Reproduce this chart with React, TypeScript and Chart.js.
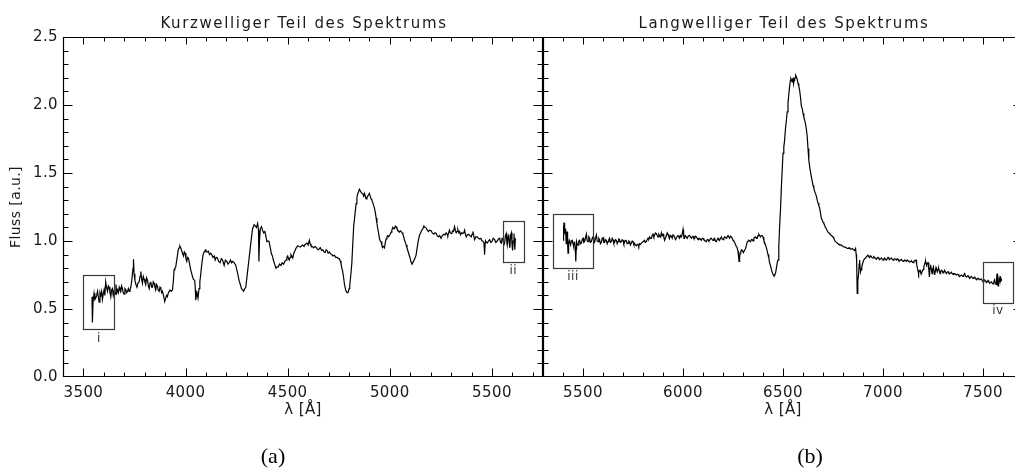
import React, { useEffect, useRef } from "react";
import { Chart, registerables } from "chart.js";

Chart.register(...registerables);

// ---------- data ----------
const panelTitles = ["Kurzwelliger Teil des Spektrums", "Langwelliger Teil des Spektrums"];
const xAxisTitle = "λ [Å]";
const yAxisTitle = "Fluss [a.u.]";
const captions = ["(a)", "(b)"];

const yRange = [0, 2.5];
const yTicks = [0, 0.5, 1.0, 1.5, 2.0, 2.5];
const leftRange = [3400, 5750];
const rightRange = [5300, 7700];
const leftXTicks = [3500, 4000, 4500, 5000, 5500];
const rightXTicks = [5500, 6000, 6500, 7000, 7500];

const leftWave = [
  3542, 3544, 3547, 3552, 3556, 3560, 3565, 3569, 3573, 3577, 3581, 3585, 3589, 3593, 3597, 3601, 3605, 3609, 3613, 3618,
  3622, 3626, 3630, 3634, 3638, 3642, 3646, 3650, 3655, 3659, 3663, 3667, 3671, 3675, 3679, 3683, 3687, 3691, 3695, 3699,
  3703, 3708, 3712, 3716, 3720, 3724, 3728, 3732, 3736, 3740, 3743, 3745, 3748, 3752, 3757, 3762, 3767, 3773, 3777, 3781,
  3785, 3789, 3793, 3797, 3801, 3805, 3809, 3814, 3818, 3822, 3826, 3830, 3834, 3838, 3842, 3846, 3850, 3854, 3858, 3862,
  3866, 3871, 3875, 3879, 3883, 3887, 3892, 3898, 3903, 3907, 3911, 3916, 3920, 3924, 3930, 3936, 3940, 3944, 3948, 3952,
  3958, 3964, 3968, 3972, 3976, 3980, 3985, 3990, 3994, 3998, 4002, 4006, 4010, 4014, 4020, 4025, 4032, 4038, 4045, 4048,
  4050, 4053, 4055, 4058, 4061, 4066, 4070, 4074, 4078, 4082, 4086, 4091, 4095, 4099, 4103, 4107, 4112, 4117, 4123, 4128,
  4134, 4140, 4145, 4150, 4156, 4162, 4169, 4175, 4181, 4185, 4189, 4195, 4202, 4208, 4213, 4220, 4225, 4230, 4238, 4246,
  4254, 4262, 4268, 4274, 4280, 4284, 4290, 4295, 4301, 4307, 4312, 4320, 4328, 4336, 4342, 4347, 4353, 4357, 4359, 4362,
  4366, 4372, 4377, 4382, 4388, 4393, 4398, 4404, 4409, 4415, 4420, 4425, 4430, 4436, 4443, 4448, 4454, 4460, 4467, 4473,
  4480, 4486, 4492, 4496, 4500, 4504, 4508, 4512, 4516, 4520, 4525, 4530, 4536, 4542, 4549, 4555, 4562, 4568, 4574, 4580,
  4585, 4590, 4595, 4600, 4606, 4610, 4614, 4620, 4627, 4633, 4639, 4645, 4651, 4656, 4660, 4666, 4672, 4678, 4683, 4688,
  4693, 4698, 4704, 4710, 4716, 4722, 4729, 4735, 4742, 4748, 4753, 4757, 4761, 4765, 4769, 4774, 4778, 4784, 4788, 4791,
  4797, 4801, 4804, 4809, 4814, 4818, 4823, 4829, 4835, 4839, 4843, 4847, 4851, 4855, 4859, 4864, 4868, 4872, 4876, 4880,
  4884, 4888, 4892, 4896, 4900, 4904, 4908, 4912, 4917, 4921, 4925, 4929, 4933, 4937, 4941, 4945, 4949, 4953, 4957, 4961,
  4966, 4970, 4974, 4978, 4982, 4986, 4990, 4994, 4998, 5002, 5006, 5010, 5015, 5019, 5023, 5027, 5031, 5035, 5039, 5043,
  5047, 5051, 5055, 5060, 5064, 5068, 5072, 5076, 5080, 5084, 5088, 5092, 5096, 5100, 5104, 5109, 5112, 5116, 5121, 5125,
  5129, 5134, 5139, 5145, 5151, 5157, 5162, 5167, 5172, 5178, 5184, 5189, 5195, 5202, 5208, 5215, 5221, 5227, 5232, 5238,
  5244, 5251, 5257, 5264, 5270, 5276, 5280, 5284, 5288, 5292, 5296, 5300, 5304, 5308, 5312, 5317, 5321, 5325, 5329, 5333,
  5338, 5342, 5346, 5351, 5357, 5362, 5366, 5370, 5374, 5379, 5385, 5392, 5399, 5403, 5407, 5411, 5415, 5421, 5428, 5434,
  5440, 5446, 5451, 5456, 5461, 5464, 5467, 5469, 5473, 5477, 5483, 5489, 5494, 5500, 5506, 5513, 5519, 5526, 5532, 5538,
  5542, 5546, 5550, 5554, 5558, 5562, 5566, 5570, 5573, 5575, 5579, 5582, 5585, 5588, 5591, 5595, 5598, 5601, 5604, 5608,
  5610, 5612, 5615,
];
const leftFlux = [
  0.59, 0.40, 0.55, 0.615, 0.57, 0.58, 0.60, 0.63, 0.59, 0.55, 0.62, 0.60, 0.63, 0.57, 0.61, 0.64, 0.60, 0.70, 0.66, 0.63,
  0.67, 0.66, 0.62, 0.59, 0.64, 0.65, 0.60, 0.63, 0.61, 0.68, 0.62, 0.64, 0.62, 0.66, 0.64, 0.63, 0.67, 0.65, 0.62, 0.61,
  0.65, 0.64, 0.62, 0.63, 0.65, 0.63, 0.64, 0.66, 0.70, 0.76, 0.80, 0.865, 0.76, 0.71, 0.68, 0.66, 0.69, 0.70, 0.74, 0.775,
  0.72, 0.69, 0.74, 0.72, 0.70, 0.68, 0.73, 0.71, 0.67, 0.65, 0.69, 0.70, 0.66, 0.66, 0.70, 0.69, 0.66, 0.64, 0.68, 0.67,
  0.64, 0.63, 0.66, 0.65, 0.62, 0.63, 0.60, 0.555, 0.58, 0.60, 0.59, 0.62, 0.63, 0.64, 0.63, 0.64, 0.70, 0.79, 0.80, 0.81,
  0.87, 0.935, 0.95, 0.963, 0.95, 0.935, 0.91, 0.89, 0.92, 0.91, 0.87, 0.85, 0.88, 0.875, 0.83, 0.79, 0.75, 0.72, 0.71, 0.64,
  0.565, 0.60, 0.63, 0.60, 0.58, 0.65, 0.70, 0.75, 0.81, 0.86, 0.90, 0.92, 0.93, 0.935, 0.92, 0.92, 0.925, 0.90, 0.91, 0.90,
  0.88, 0.89, 0.86, 0.88, 0.875, 0.85, 0.84, 0.87, 0.86, 0.84, 0.82, 0.86, 0.85, 0.83, 0.84, 0.86, 0.84, 0.85, 0.84, 0.82,
  0.77, 0.71, 0.68, 0.65, 0.64, 0.63, 0.65, 0.66, 0.74, 0.82, 0.885, 0.99, 1.09, 1.12, 1.11, 1.10, 1.13, 1.08, 0.85, 1.00,
  1.09, 1.105, 1.08, 1.06, 1.07, 1.04, 0.995, 1.00, 0.995, 0.95, 0.91, 0.89, 0.86, 0.83, 0.80, 0.81, 0.81, 0.83, 0.82, 0.84,
  0.83, 0.85, 0.86, 0.88, 0.89, 0.87, 0.86, 0.88, 0.90, 0.89, 0.875, 0.91, 0.93, 0.95, 0.965, 0.96, 0.955, 0.965, 0.97, 0.96,
  0.975, 0.98, 0.985, 0.97, 1.005, 0.98, 0.965, 0.96, 0.95, 0.96, 0.955, 0.94, 0.935, 0.945, 0.95, 0.93, 0.935, 0.92, 0.915, 0.935,
  0.93, 0.91, 0.92, 0.905, 0.90, 0.89, 0.895, 0.88, 0.88, 0.87, 0.87, 0.855, 0.835, 0.80, 0.78, 0.73, 0.68, 0.64, 0.625, 0.62,
  0.625, 0.65, 0.675, 0.75, 0.835, 0.96, 1.105, 1.19, 1.275, 1.32, 1.35, 1.36, 1.38, 1.37, 1.36, 1.35, 1.345, 1.33, 1.35, 1.33,
  1.31, 1.32, 1.33, 1.34, 1.35, 1.33, 1.31, 1.30, 1.28, 1.26, 1.24, 1.21, 1.17, 1.13, 1.09, 1.06, 1.02, 1.00, 0.995, 0.97,
  0.955, 0.96, 0.95, 0.99, 1.015, 1.03, 1.04, 1.03, 1.04, 1.05, 1.065, 1.08, 1.10, 1.09, 1.09, 1.11, 1.105, 1.09, 1.08, 1.07,
  1.065, 1.075, 1.07, 1.06, 1.05, 1.03, 1.005, 0.99, 0.97, 0.95, 0.93, 0.91, 0.89, 0.87, 0.845, 0.83, 0.83, 0.85, 0.865, 0.88,
  0.90, 0.95, 1.00, 1.04, 1.06, 1.08, 1.09, 1.11, 1.10, 1.095, 1.08, 1.07, 1.08, 1.075, 1.06, 1.05, 1.06, 1.055, 1.04, 1.03,
  1.04, 1.02, 1.04, 1.05, 1.045, 1.06, 1.05, 1.04, 1.06, 1.08, 1.06, 1.055, 1.06, 1.075, 1.07, 1.105, 1.08, 1.06, 1.07, 1.085,
  1.06, 1.07, 1.045, 1.06, 1.055, 1.06, 1.08, 1.05, 1.03, 1.045, 1.05, 1.04, 1.03, 1.05, 1.07, 1.04, 1.01, 1.03, 1.03, 1.02,
  1.015, 1.02, 1.00, 1.00, 0.985, 0.90, 0.99, 1.00, 0.99, 0.985, 1.00, 1.01, 0.99, 0.995, 1.02, 1.01, 0.99, 1.00, 1.015, 1.02,
  0.99, 0.985, 1.02, 1.015, 0.97, 0.985, 1.04, 1.055, 0.99, 0.97, 1.03, 1.05, 0.98, 0.95, 1.04, 1.06, 0.98, 0.93, 1.00, 1.055,
  0.99, 0.935, 1.02,
];

const rightWave = [
  5400, 5403, 5405, 5407, 5409, 5411, 5413, 5416, 5418, 5421, 5423, 5425, 5428, 5431, 5434, 5438, 5442, 5446, 5450, 5453,
  5456, 5458, 5461, 5464, 5466, 5468, 5471, 5475, 5479, 5483, 5487, 5492, 5496, 5500, 5504, 5508, 5512, 5517, 5521, 5525,
  5529, 5533, 5537, 5542, 5546, 5550, 5554, 5558, 5562, 5567, 5571, 5575, 5579, 5583, 5587, 5592, 5596, 5600, 5604, 5608,
  5612, 5617, 5621, 5625, 5629, 5633, 5637, 5642, 5646, 5650, 5654, 5658, 5662, 5667, 5671, 5675, 5679, 5683, 5687, 5692,
  5696, 5700, 5704, 5708, 5712, 5717, 5721, 5725, 5729, 5733, 5737, 5742, 5746, 5750, 5754, 5758, 5762, 5767, 5771, 5775,
  5779, 5783, 5787, 5792, 5796, 5800, 5804, 5808, 5812, 5817, 5821, 5825, 5829, 5833, 5837, 5842, 5846, 5850, 5854, 5858,
  5862, 5867, 5871, 5875, 5879, 5883, 5888, 5892, 5896, 5900, 5904, 5908, 5912, 5917, 5921, 5925, 5929, 5933, 5937, 5942,
  5946, 5950, 5954, 5958, 5962, 5967, 5971, 5975, 5979, 5983, 5987, 5992, 5996, 6000, 6003, 6005, 6008, 6011, 6016, 6021,
  6026, 6033, 6037, 6042, 6046, 6050, 6054, 6058, 6062, 6067, 6071, 6075, 6079, 6083, 6088, 6092, 6096, 6100, 6104, 6108,
  6112, 6117, 6121, 6125, 6129, 6133, 6138, 6142, 6146, 6150, 6154, 6158, 6162, 6167, 6171, 6175, 6179, 6183, 6188, 6192,
  6196, 6200, 6204, 6208, 6212, 6217, 6221, 6225, 6229, 6233, 6238, 6242, 6246, 6250, 6254, 6258, 6262, 6267, 6271, 6275,
  6278, 6280, 6283, 6286, 6289, 6292, 6297, 6302, 6307, 6313, 6317, 6322, 6326, 6329, 6334, 6338, 6342, 6346, 6350, 6354,
  6358, 6363, 6367, 6371, 6375, 6379, 6383, 6388, 6392, 6396, 6400, 6404, 6408, 6413, 6417, 6421, 6425, 6429, 6433, 6438,
  6442, 6446, 6450, 6454, 6458, 6463, 6467, 6471, 6475, 6479, 6483, 6488, 6492, 6496, 6500, 6504, 6508, 6512, 6517, 6521,
  6525, 6529, 6533, 6537, 6539, 6542, 6546, 6548, 6550, 6552, 6554, 6556, 6558, 6560, 6563, 6565, 6567, 6571, 6575, 6579,
  6583, 6588, 6592, 6596, 6600, 6604, 6608, 6612, 6617, 6621, 6625, 6629, 6635, 6642, 6646, 6650, 6654, 6658, 6662, 6667,
  6671, 6675, 6679, 6683, 6688, 6692, 6696, 6700, 6704, 6708, 6712, 6717, 6721, 6725, 6729, 6733, 6738, 6742, 6746, 6750,
  6754, 6758, 6762, 6767, 6771, 6775, 6779, 6783, 6788, 6792, 6796, 6800, 6804, 6808, 6812, 6817, 6821, 6825, 6829, 6833,
  6838, 6842, 6846, 6850, 6854, 6858, 6863, 6866, 6868, 6871, 6874, 6878, 6881, 6883, 6886, 6888, 6891, 6894, 6899, 6904,
  6908, 6913, 6917, 6921, 6925, 6929, 6933, 6938, 6942, 6946, 6950, 6954, 6958, 6963, 6967, 6971, 6975, 6979, 6983, 6988,
  6992, 6996, 7000, 7004, 7008, 7012, 7017, 7021, 7025, 7029, 7033, 7038, 7042, 7046, 7050, 7054, 7058, 7063, 7067, 7071,
  7075, 7079, 7083, 7088, 7092, 7096, 7100, 7104, 7108, 7113, 7117, 7121, 7125, 7129, 7133, 7138, 7142, 7146, 7150, 7154,
  7158, 7162, 7165, 7168, 7172, 7175, 7178, 7181, 7185, 7188, 7192, 7196, 7200, 7204, 7208, 7211, 7213, 7216, 7218, 7221,
  7225, 7229, 7232, 7235, 7238, 7242, 7245, 7248, 7252, 7255, 7258, 7262, 7265, 7268, 7272, 7275, 7278, 7282, 7285, 7288,
  7292, 7296, 7300, 7304, 7308, 7313, 7317, 7321, 7325, 7329, 7333, 7338, 7342, 7346, 7350, 7354, 7358, 7363, 7367, 7371,
  7375, 7379, 7383, 7388, 7392, 7396, 7400, 7404, 7408, 7413, 7417, 7421, 7425, 7429, 7433, 7438, 7442, 7446, 7450, 7454,
  7458, 7463, 7467, 7471, 7475, 7479, 7483, 7488, 7492, 7496, 7500, 7504, 7508, 7513, 7517, 7521, 7525, 7529, 7533, 7538,
  7542, 7546, 7550, 7554, 7558, 7562, 7565, 7568, 7570, 7572, 7575, 7578, 7580, 7583, 7585, 7587, 7588, 7590, 7592,
];
const rightFlux = [
  1.007, 1.10, 1.135, 1.06, 1.10, 1.05, 1.09, 0.98, 1.04, 1.07, 0.99, 0.91, 0.98, 1.005, 0.99, 0.97, 1.00, 1.005, 0.98, 0.96,
  0.99, 0.995, 0.96, 0.85, 0.94, 0.995, 0.98, 0.97, 1.00, 1.005, 0.98, 0.985, 1.01, 1.02, 0.99, 0.995, 1.02, 1.05, 1.00, 0.995,
  1.03, 1.02, 0.99, 0.995, 1.02, 1.03, 1.00, 0.99, 1.02, 1.045, 1.00, 0.995, 1.02, 1.01, 0.98, 0.99, 1.02, 1.025, 0.99, 0.99,
  1.01, 1.005, 0.98, 0.995, 1.01, 1.02, 0.99, 0.995, 1.02, 1.01, 0.985, 0.99, 1.01, 1.005, 0.98, 0.995, 1.015, 1.01, 0.99, 0.995,
  1.01, 1.005, 0.98, 0.99, 1.005, 1.00, 0.98, 0.985, 1.00, 0.995, 0.97, 0.985, 1.00, 0.995, 0.975, 0.98, 0.97, 0.965, 0.975, 0.975,
  0.96, 0.98, 0.975, 0.985, 0.99, 0.995, 1.00, 1.005, 0.99, 0.995, 1.01, 1.02, 1.015, 1.03, 1.02, 1.02, 1.04, 1.05, 1.03, 1.04,
  1.06, 1.055, 1.04, 1.03, 1.05, 1.04, 1.03, 1.06, 1.04, 1.05, 1.03, 1.005, 1.02, 1.04, 1.06, 1.05, 1.03, 1.02, 1.04, 1.035,
  1.02, 1.045, 1.04, 1.03, 1.01, 1.02, 1.035, 1.04, 1.03, 1.02, 1.04, 1.03, 1.05, 1.085, 1.04, 1.02, 1.03, 1.04, 1.03, 1.02,
  1.035, 1.04, 1.03, 1.02, 1.03, 1.035, 1.02, 1.02, 1.035, 1.03, 1.02, 1.01, 1.02, 1.02, 1.01, 1.005, 1.02, 1.02, 1.01, 1.005,
  1.00, 0.995, 1.01, 1.01, 1.00, 1.005, 1.02, 1.02, 1.01, 1.005, 1.015, 1.02, 1.00, 0.995, 1.01, 1.02, 1.01, 1.005, 1.02, 1.03,
  1.015, 1.01, 1.02, 1.03, 1.025, 1.02, 1.03, 1.04, 1.03, 1.02, 1.035, 1.03, 1.02, 1.005, 1.00, 0.99, 0.975, 0.96, 0.95, 0.925,
  0.88, 0.85, 0.88, 0.91, 0.92, 0.935, 0.93, 0.915, 0.93, 0.945, 0.97, 0.995, 1.00, 1.005, 1.00, 0.995, 1.01, 1.01, 1.00, 1.02,
  1.025, 1.03, 1.02, 1.02, 1.04, 1.05, 1.04, 1.03, 1.04, 1.04, 1.03, 1.005, 0.99, 0.97, 0.95, 0.925, 0.90, 0.875, 0.84, 0.815,
  0.79, 0.77, 0.755, 0.745, 0.745, 0.765, 0.80, 0.84, 0.86, 0.96, 1.105, 1.25, 1.40, 1.52, 1.645, 1.69, 1.74, 1.82, 1.89, 1.95,
  2.01, 2.08, 2.135, 2.18, 2.195, 2.185, 2.17, 2.19, 2.195, 2.17, 2.16, 2.18, 2.195, 2.20, 2.21, 2.20, 2.205, 2.19, 2.16, 2.14,
  2.11, 2.05, 1.99, 1.975, 1.94, 1.91, 1.89, 1.865, 1.82, 1.77, 1.68, 1.595, 1.53, 1.47, 1.44, 1.41, 1.39, 1.365, 1.35, 1.33,
  1.30, 1.28, 1.26, 1.245, 1.20, 1.165, 1.155, 1.14, 1.13, 1.115, 1.10, 1.09, 1.075, 1.065, 1.06, 1.055, 1.045, 1.04, 1.035, 1.03,
  1.02, 1.005, 0.995, 0.99, 0.985, 0.98, 0.975, 0.975, 0.97, 0.97, 0.965, 0.96, 0.96, 0.955, 0.955, 0.95, 0.945, 0.945, 0.95, 0.95,
  0.94, 0.94, 0.945, 0.94, 0.935, 0.93, 0.945, 0.90, 0.86, 0.615, 0.70, 0.76, 0.83, 0.86, 0.80, 0.775, 0.79, 0.81, 0.84, 0.86,
  0.87, 0.875, 0.885, 0.89, 0.895, 0.885, 0.88, 0.89, 0.885, 0.875, 0.875, 0.885, 0.88, 0.87, 0.865, 0.875, 0.88, 0.87, 0.865, 0.87,
  0.875, 0.865, 0.86, 0.87, 0.875, 0.865, 0.86, 0.87, 0.88, 0.87, 0.865, 0.87, 0.875, 0.865, 0.86, 0.865, 0.87, 0.865, 0.86, 0.87,
  0.865, 0.855, 0.855, 0.86, 0.865, 0.855, 0.85, 0.855, 0.86, 0.855, 0.85, 0.86, 0.855, 0.85, 0.845, 0.85, 0.855, 0.845, 0.84, 0.85,
  0.855, 0.86, 0.86, 0.83, 0.80, 0.78, 0.76, 0.78, 0.785, 0.77, 0.76, 0.775, 0.79, 0.81, 0.83, 0.845, 0.85, 0.83, 0.825, 0.835,
  0.84, 0.79, 0.735, 0.80, 0.825, 0.79, 0.76, 0.79, 0.81, 0.78, 0.75, 0.78, 0.805, 0.79, 0.775, 0.79, 0.80, 0.78, 0.76, 0.775,
  0.785, 0.78, 0.765, 0.775, 0.785, 0.77, 0.76, 0.77, 0.775, 0.765, 0.76, 0.765, 0.77, 0.76, 0.755, 0.76, 0.76, 0.755, 0.75, 0.755,
  0.755, 0.745, 0.74, 0.745, 0.75, 0.745, 0.74, 0.75, 0.76, 0.745, 0.735, 0.74, 0.745, 0.735, 0.725, 0.735, 0.74, 0.73, 0.725, 0.73,
  0.735, 0.725, 0.715, 0.72, 0.725, 0.72, 0.715, 0.72, 0.72, 0.71, 0.70, 0.71, 0.715, 0.705, 0.695, 0.70, 0.71, 0.70, 0.69, 0.695,
  0.70, 0.69, 0.685, 0.70, 0.715, 0.69, 0.68, 0.72, 0.76, 0.70, 0.67, 0.70, 0.73, 0.71, 0.70, 0.72, 0.74, 0.72, 0.705,
];

// marked regions (data units)
const leftBoxLabels = ["i", "ii"];
const leftBoxX0 = [3500, 5554];
const leftBoxX1 = [3652, 5655];
const leftBoxY0 = [0.35, 0.848];
const leftBoxY1 = [0.748, 1.149];
const rightBoxLabels = ["iii", "iv"];
const rightBoxX0 = [5350, 7500];
const rightBoxX1 = [5550, 7650];
const rightBoxY0 = [0.80, 0.55];
const rightBoxY1 = [1.20, 0.848];

// ---------- styling ----------
const FONT = "'DejaVu Sans', sans-serif";
const INK = "#1a1a1a";

const framePlugin = {
  id: "frameTicks",
  beforeDraw(chart: any) {
    (chart.ctx as any).letterSpacing = "0.4px";
  },
  afterDraw(chart: any) {
    const { ctx, chartArea: a, scales } = chart;
    const xs = scales.x;
    const ys = scales.y;
    ctx.save();
    (ctx as any).letterSpacing = "0px";
    ctx.strokeStyle = "#000";
    ctx.lineWidth = 1.2;
    const L = Math.round(a.left) + 0.5;
    const R = Math.round(a.right) - 0.5;
    const T = Math.round(a.top) + 0.5;
    const B = Math.round(a.bottom) - 0.5;
    ctx.beginPath();
    ctx.rect(L, T, R - L, B - T);
    ctx.stroke();
    ctx.lineWidth = 1;
    ctx.beginPath();
    const x0 = Math.ceil(xs.min / 100) * 100;
    for (let v = x0; v <= xs.max; v += 100) {
      if (v <= xs.min || v >= xs.max) continue;
      const major = v % 500 === 0;
      const p = Math.round(xs.getPixelForValue(v)) + 0.5;
      const lb = major ? 8 : 4;
      const lt = major ? 7 : 4;
      ctx.moveTo(p, B);
      ctx.lineTo(p, B - lb);
      ctx.moveTo(p, T);
      ctx.lineTo(p, T + lt);
    }
    for (let i = 1; i < 25; i++) {
      const v = i / 10;
      const major = i % 5 === 0;
      const p = Math.round(ys.getPixelForValue(v)) + 0.5;
      const len = major ? 9 : 5;
      ctx.moveTo(L, p);
      ctx.lineTo(L + len, p);
      ctx.moveTo(R, p);
      ctx.lineTo(R - len, p);
    }
    ctx.stroke();
    ctx.restore();
  },
};

const boxPlugin = {
  id: "regionBoxes",
  afterDatasetsDraw(chart: any, _args: any, opts: any) {
    const { ctx, scales } = chart;
    const xs = scales.x;
    const ys = scales.y;
    ctx.save();
    (ctx as any).letterSpacing = "0.5px";
    ctx.strokeStyle = "#3a3a3a";
    ctx.lineWidth = 1.2;
    ctx.fillStyle = "#333";
    ctx.font = `12px ${FONT}`;
    ctx.textAlign = "center";
    ctx.textBaseline = "top";
    for (let i = 0; i < opts.labels.length; i++) {
      const l = xs.getPixelForValue(opts.x0[i]);
      const r = xs.getPixelForValue(opts.x1[i]);
      const t = ys.getPixelForValue(opts.y1[i]);
      const b = ys.getPixelForValue(opts.y0[i]);
      ctx.strokeRect(Math.round(l) + 0.5, Math.round(t) + 0.5, Math.round(r - l), Math.round(b - t));
      ctx.fillText(opts.labels[i], (l + r) / 2, b + 3);
    }
    ctx.restore();
  },
};

const panelTitlePlugin = {
  id: "panelTitle",
  afterDraw(chart: any, _args: any, opts: any) {
    const { ctx, chartArea: a } = chart;
    ctx.save();
    (ctx as any).letterSpacing = "1.6px";
    ctx.fillStyle = INK;
    ctx.font = `15px ${FONT}`;
    ctx.textAlign = "center";
    ctx.textBaseline = "alphabetic";
    ctx.fillText(opts.text, (a.left + a.right) / 2 + 1, 28);
    ctx.restore();
  },
};

function makeConfig(
  wave: number[],
  flux: number[],
  range: number[],
  xTicks: number[],
  title: string,
  showY: boolean,
  boxes: any,
  padLeft: number,
  padRight: number
): any {
  return {
    type: "line",
    data: {
      datasets: [
        {
          data: wave.map((w, i) => ({ x: w, y: flux[i] })),
          borderColor: "#000",
          borderWidth: 1.2,
          pointRadius: 0,
          tension: 0,
          fill: false,
        },
      ],
    },
    options: {
      animation: false,
      responsive: false,
      events: [],
      layout: { padding: { top: 37, left: padLeft, right: padRight, bottom: 0 } },
      plugins: {
        legend: { display: false },
        tooltip: { enabled: false },
        title: { display: false },
        panelTitle: { text: title },
        regionBoxes: boxes,
      },
      scales: {
        x: {
          type: "linear",
          min: range[0],
          max: range[1],
          afterFit: (s: any) => {
            s.height = 99;
          },
          afterBuildTicks: (s: any) => {
            s.ticks = xTicks.map((v) => ({ value: v }));
          },
          grid: { display: false, drawTicks: false },
          border: { display: false },
          ticks: {
            font: { family: FONT, size: 15 },
            color: INK,
            padding: 7,
            maxRotation: 0,
            autoSkip: false,
            callback: (v: any) => String(v),
          },
          title: {
            display: true,
            text: xAxisTitle,
            font: { family: FONT, size: 15 },
            color: INK,
            padding: { top: 0, bottom: 57 },
          },
        },
        y: {
          type: "linear",
          display: showY,
          min: yRange[0],
          max: yRange[1],
          afterFit: (s: any) => {
            s.width = showY ? 63 : 0;
          },
          afterBuildTicks: (s: any) => {
            s.ticks = yTicks.map((v) => ({ value: v }));
          },
          grid: { display: false, drawTicks: false },
          border: { display: false },
          ticks: {
            font: { family: FONT, size: 15 },
            color: INK,
            padding: 5,
            callback: (v: any) => Number(v).toFixed(1),
          },
          title: {
            display: true,
            text: yAxisTitle,
            font: { family: FONT, size: 14 },
            color: INK,
            padding: { top: 8, bottom: 0 },
          },
        },
      },
    },
    plugins: [framePlugin, boxPlugin, panelTitlePlugin],
  };
}

export default function App() {
  const leftRef = useRef<HTMLCanvasElement>(null);
  const rightRef = useRef<HTMLCanvasElement>(null);

  useEffect(() => {
    const c1 = new Chart(
      leftRef.current as HTMLCanvasElement,
      makeConfig(
        leftWave,
        leftFlux,
        leftRange,
        leftXTicks,
        panelTitles[0],
        true,
        { labels: leftBoxLabels, x0: leftBoxX0, x1: leftBoxX1, y0: leftBoxY0, y1: leftBoxY1 },
        0,
        5
      )
    );
    const c2 = new Chart(
      rightRef.current as HTMLCanvasElement,
      makeConfig(
        rightWave,
        rightFlux,
        rightRange,
        rightXTicks,
        panelTitles[1],
        false,
        { labels: rightBoxLabels, x0: rightBoxX0, x1: rightBoxX1, y0: rightBoxY0, y1: rightBoxY1 },
        5,
        10
      )
    );
    return () => {
      c1.destroy();
      c2.destroy();
    };
  }, []);

  const capStyle: React.CSSProperties = {
    position: "absolute",
    top: 456,
    transform: "translate(-50%, -50%)",
    fontFamily: "'Liberation Serif', 'Times New Roman', serif",
    fontSize: 22,
    lineHeight: 1,
    color: "#000",
    whiteSpace: "nowrap",
  };

  return (
    <div
      style={{
        position: "fixed",
        left: 0,
        top: 0,
        width: 1015,
        height: 476,
        overflow: "hidden",
        background: "#fff",
      }}
    >
      <canvas ref={leftRef} width={548} height={476} style={{ position: "absolute", left: 0, top: 0 }} />
      <canvas ref={rightRef} width={495} height={476} style={{ position: "absolute", left: 538, top: 0 }} />
      <div style={{ ...capStyle, left: 273 }}>{captions[0]}</div>
      <div style={{ ...capStyle, left: 810 }}>{captions[1]}</div>
    </div>
  );
}
